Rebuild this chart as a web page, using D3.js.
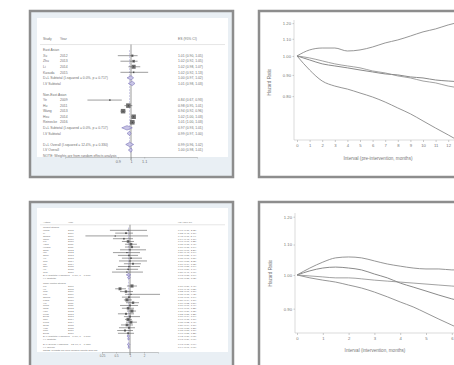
<!DOCTYPE html>
<html>
<head>
<meta charset="utf-8">
<script src="https://cdn.jsdelivr.net/npm/d3@7"></script>
<style>
  body { margin: 0; background: #fff; }
  svg { display: block; }
  text { font-family: "Liberation Sans", Arial, sans-serif; }
</style>
</head>
<body>
<svg id="chart" width="454" height="365"></svg>
<script>
// ---------- data: forest plot A (top left) ----------
const faHeader = ['Study', 'Year', 'ES (95% CI)'];
const faGroupLabels = ['East Asian', 'Non-East Asian'];
const fa1Names = ['Xu', 'Zhu', 'Li', 'Kasuda'];
const fa1Years = [2012, 2013, 2014, 2015];
const fa1Est = [1.01, 1.02, 1.02, 1.02];
const fa1Lo = [0.90, 0.92, 0.98, 0.92];
const fa1Hi = [1.05, 1.05, 1.07, 1.13];
const fa1Sub = [1.00, 0.97, 1.02];
const fa1SubIV = [1.01, 0.98, 1.03];
const fa2Names = ['Ye', 'Hu', 'Wang', 'Hsu', 'Reinecke'];
const fa2Years = [2009, 2011, 2013, 2014, 2016];
const fa2Est = [0.84, 0.98, 0.94, 1.02, 1.01];
const fa2Lo = [0.67, 0.95, 0.92, 1.00, 1.00];
const fa2Hi = [0.93, 1.01, 0.96, 1.03, 1.03];
const fa2Sub = [0.97, 0.93, 1.01];
const fa2SubIV = [0.99, 0.97, 1.00];
const faAll = [0.99, 0.96, 1.02];
const faAllIV = [1.00, 0.98, 1.01];
const faTicks = [0.9, 1, 1.1];

// ---------- data: forest plot B (bottom left) ----------
const fbHeader = ['Author', 'Year', 'HR (95% CI)'];
const fbGroupLabels = ['Cohort studies', 'Case-control studies'];
const fb1Names = ['Wang', 'Li', 'Zhang', 'Chen', 'Liu', 'Yang', 'Huang', 'Zhao',
  'Wu', 'Zhou', 'Xu', 'Sun', 'Ma', 'Zhu', 'Hu', 'Guo'];
const fb1Years = [2008, 2009, 2009, 2010, 2010, 2011, 2011, 2012,
  2012, 2013, 2013, 2014, 2014, 2015, 2015, 2016];
const fb1Est = [0.91, 0.82, 0.48, 0.74, 0.91, 1.05, 1.10, 1.00, 0.86, 0.95, 1.05, 1.00, 1.16, 0.95, 0.91, 0.86];
const fb1Lo = [0.37, 0.48, 0.11, 0.43, 0.67, 0.78, 0.78, 0.61, 0.43, 0.55, 0.67, 0.58, 0.74, 0.55, 0.50, 0.41];
const fb1Hi = [2.32, 1.16, 2.44, 1.16, 1.22, 1.41, 1.64, 2.21, 1.64, 1.49, 1.81, 2.32, 1.72, 1.64, 1.49, 1.90];
const fb1Sub = [0.93, 0.83, 1.04];
const fb1SubIV = [0.95, 0.88, 1.02];
const fb2Names = ['Lin', 'He', 'Gao', 'Luo', 'Zheng', 'Liang', 'Xie', 'Song', 'Tang',
  'Han', 'Feng', 'Deng', 'Cao', 'Peng', 'Zeng', 'Xiao', 'Tian', 'Dong'];
const fb2Years = [2007, 2008, 2009, 2009, 2010, 2010, 2011, 2011, 2012,
  2012, 2013, 2013, 2014, 2014, 2015, 2015, 2016, 2016];
const fb2Est = [1.10, 0.61, 0.82, 1.05, 0.95, 0.86, 1.16, 1.00, 0.91, 1.10, 0.82, 1.00, 0.91, 1.05, 0.86, 0.95, 0.78, 0.91];
const fb2Lo = [0.86, 0.48, 0.61, 0.78, 0.67, 0.74, 0.82, 0.61, 0.67, 0.86, 0.55, 0.74, 0.78, 0.82, 0.64, 0.58, 0.53, 0.55];
const fb2Hi = [1.41, 0.82, 1.16, 4.42, 1.64, 1.10, 1.56, 1.49, 1.22, 1.35, 1.22, 1.64, 1.10, 1.41, 1.16, 1.28, 1.16, 1.22];
const fb2Sub = [0.92, 0.86, 0.98];
const fb2SubIV = [0.93, 0.89, 0.97];
const fbAll = [0.93, 0.87, 0.99];
const fbAllIV = [0.94, 0.91, 0.97];
const fbTicks = [0.25, 0.5, 1, 2];

// ---------- data: hazard ratio curves ----------
const c1Months = [0, 1, 2, 3, 4, 5, 6, 7, 8, 9, 10, 11, 12, 13];
const c1Upper = [1.000, 1.034, 1.045, 1.045, 1.028, 1.034, 1.051, 1.075, 1.093, 1.117, 1.143, 1.162, 1.188, 1.208];
const c1EstA = [1.000, 0.978, 0.957, 0.946, 0.936, 0.925, 0.915, 0.905, 0.900, 0.890, 0.885, 0.875, 0.870, 0.866];
const c1EstB = [1.000, 0.989, 0.973, 0.957, 0.946, 0.936, 0.920, 0.910, 0.895, 0.885, 0.870, 0.861, 0.846, 0.837];
const c1Lower = [1.000, 0.925, 0.870, 0.846, 0.832, 0.814, 0.796, 0.774, 0.749, 0.725, 0.697, 0.670, 0.645, 0.620];
const c1XTicks = [0, 1, 2, 3, 4, 5, 6, 7, 8, 9, 10, 11, 12];
const c1YTicks = [0.8, 0.9, 1.0, 1.1, 1.2];

const c2Months = [0, 0.5, 1, 1.5, 2, 2.5, 3, 3.5, 4, 4.5, 5, 5.5, 6, 6.5, 7];
const c2Upper = [1.000, 1.022, 1.041, 1.055, 1.058, 1.055, 1.045, 1.035, 1.028, 1.022, 1.019, 1.019, 1.016, 1.016, 1.016];
const c2Est = [1.000, 1.013, 1.022, 1.025, 1.022, 1.016, 1.003, 0.991, 0.975, 0.963, 0.951, 0.939, 0.928, 0.919, 0.911];
const c2Thin = [1.000, 0.997, 0.994, 0.991, 0.991, 0.988, 0.984, 0.981, 0.978, 0.975, 0.972, 0.969, 0.966, 0.963, 0.960];
const c2Lower = [1.000, 0.991, 0.984, 0.978, 0.969, 0.960, 0.948, 0.934, 0.919, 0.905, 0.888, 0.871, 0.855, 0.839, 0.824];
const c2XTicks = [0, 1, 2, 3, 4, 5, 6];
const c2YTicks = [0.9, 1.0, 1.1, 1.2];

const yLabel = 'Hazard Ratio';
const c1XLabel = 'Interval (pre-intervention, months)';
const c2XLabel = 'Interval (intervention, months)';

// ---------- drawing ----------
const svg = d3.select('#chart');
const fmt = d3.format('.2f');
const textCol = '#707070';
const frameCol = '#8d8d8d';
const diamondCol = '#7b74b8';

function buildRows(groupLabels, groups, overall, overallIV) {
  const rows = [];
  let r = 2;
  groups.forEach((g, gi) => {
    rows.push({ type: 'label', row: r++, label: groupLabels[gi] });
    g.names.forEach((n, i) => {
      rows.push({ type: 'study', row: r++, label: n, year: g.years[i], est: g.est[i], lo: g.lo[i], hi: g.hi[i] });
    });
    rows.push({ type: 'sub', row: r++, label: 'D+L Subtotal (I-squared = 0.0%, p = 0.717)', est: g.sub[0], lo: g.sub[1], hi: g.sub[2] });
    rows.push({ type: 'sub', row: r++, label: 'I-V Subtotal', est: g.subIV[0], lo: g.subIV[1], hi: g.subIV[2] });
    r++;
  });
  rows.push({ type: 'sub', row: r++, label: 'D+L Overall (I-squared = 12.4%, p = 0.330)', est: overall[0], lo: overall[1], hi: overall[2] });
  rows.push({ type: 'sub', row: r++, label: 'I-V Overall', est: overallIV[0], lo: overallIV[1], hi: overallIV[2] });
  rows.push({ type: 'note', row: r++, label: 'NOTE: Weights are from random effects analysis' });
  return rows;
}

function drawForest(o) {
  const g = svg.append('g');
  // frame, pale band, white plot area
  g.append('rect').attr('x', o.frame[0]).attr('y', o.frame[1]).attr('width', o.frame[2]).attr('height', o.frame[3])
    .attr('fill', '#e9eff4').attr('stroke', frameCol).attr('stroke-width', 2.5);
  g.append('rect').attr('x', o.inner[0]).attr('y', o.inner[1]).attr('width', o.inner[2]).attr('height', o.inner[3])
    .attr('fill', '#fff');

  const nRows = d3.max(o.rows, d => d.row);
  const y = d3.scaleLinear().domain([0, nRows]).range(o.yRange);
  const x = o.x;
  const fs = o.fontSize;

  // header
  o.header.forEach((h, i) => {
    g.append('text').attr('x', o.cols[i]).attr('y', y(0)).attr('dy', '0.35em')
      .attr('font-size', fs).attr('fill', textCol).text(h);
  });
  g.append('line').attr('x1', o.inner[0] + 3).attr('x2', o.inner[0] + o.inner[2] - 3)
    .attr('y1', y(1)).attr('y2', y(1)).attr('stroke', '#ccc').attr('stroke-width', 0.5);

  // null line
  g.append('line').attr('x1', x(1)).attr('x2', x(1)).attr('y1', y(1)).attr('y2', o.axisY + 3)
    .attr('stroke', '#555').attr('stroke-width', 0.6);
  // overall effect line
  const ov = o.rows.filter(d => d.type === 'sub').slice(-2)[0];
  g.append('line').attr('x1', x(ov.est)).attr('x2', x(ov.est)).attr('y1', y(2)).attr('y2', y(nRows - 1))
    .attr('stroke', diamondCol).attr('stroke-width', 0.5).attr('stroke-dasharray', '2,1').attr('opacity', 0.8);

  o.rows.forEach(d => {
    const yy = y(d.row);
    g.append('text').attr('x', o.cols[0]).attr('y', yy).attr('dy', '0.35em')
      .attr('font-size', fs).attr('fill', textCol).text(d.label);
    if (d.type === 'label' || d.type === 'note') return;
    if (d.type === 'study') {
      g.append('text').attr('x', o.cols[1]).attr('y', yy).attr('dy', '0.35em').attr('font-size', fs).attr('fill', textCol).text(d.year);
      g.append('line').attr('x1', x(d.lo)).attr('x2', x(d.hi)).attr('y1', yy).attr('y2', yy)
        .attr('stroke', '#4d4d4d').attr('stroke-width', 0.55);
      const s = Math.max(o.sq[0], Math.min(o.sq[1], o.sq[2] / (Math.log(d.hi) - Math.log(d.lo))));
      g.append('rect').attr('x', x(d.est) - s / 2).attr('y', yy - s / 2).attr('width', s).attr('height', s)
        .attr('fill', '#6f6f6f');
      g.append('circle').attr('cx', x(d.est)).attr('cy', yy).attr('r', 0.5).attr('fill', '#333');
    } else {
      const h = o.diamondH;
      g.append('polygon')
        .attr('points', [[x(d.lo), yy], [x(d.est), yy - h], [x(d.hi), yy], [x(d.est), yy + h]].map(p => p.join(',')).join(' '))
        .attr('fill', '#c9c5e6').attr('stroke', diamondCol).attr('stroke-width', 0.6);
    }
    g.append('text').attr('x', o.cols[2]).attr('y', yy).attr('dy', '0.35em').attr('font-size', fs).attr('fill', textCol)
      .text(`${fmt(d.est)} (${fmt(d.lo)}, ${fmt(d.hi)})`);
  });

  // x axis
  const ax = g.append('g').attr('transform', `translate(0,${o.axisY})`)
    .call(d3.axisBottom(x).tickValues(o.ticks).tickSize(1.5).tickFormat(d => d3.format('~g')(d)));
  ax.select('.domain').attr('stroke', '#999').attr('stroke-width', 0.5);
  ax.selectAll('line').attr('stroke', '#999').attr('stroke-width', 0.5);
  ax.selectAll('text').attr('font-size', fs + 0.4).attr('fill', textCol).attr('y', 3);
}

function drawHR(o) {
  const g = svg.append('g');
  g.append('rect').attr('x', o.frame[0]).attr('y', o.frame[1]).attr('width', o.frame[2]).attr('height', o.frame[3])
    .attr('fill', '#fff').attr('stroke', frameCol).attr('stroke-width', 2.5);

  const x = d3.scaleLinear().domain(o.xDomain).range(o.xRange);
  const y = d3.scaleLog().domain(o.yDomain).range(o.yRange);

  const clipId = 'clip' + o.id;
  svg.append('clipPath').attr('id', clipId).append('rect')
    .attr('x', o.axisX).attr('y', o.yRange[1] - 4).attr('width', 300).attr('height', o.yRange[0] - o.yRange[1] + 4);

  const xa = g.append('g').attr('transform', `translate(0,${o.yRange[0]})`)
    .call(d3.axisBottom(x).tickValues(o.xTicks).tickSize(2).tickFormat(d3.format('d')));
  xa.select('.domain').attr('d', `M${o.axisX},0H${o.xRange[1] + 40}`).attr('stroke', '#c4c4c4').attr('stroke-width', 0.6);
  xa.selectAll('line').attr('stroke', '#aaa').attr('stroke-width', 0.6);
  xa.selectAll('text').attr('font-size', 4.2).attr('fill', '#777').attr('y', 4);

  const ya = g.append('g').attr('transform', `translate(${o.axisX},0)`)
    .call(d3.axisLeft(y).tickValues(o.yTicks).tickSize(1.5).tickFormat(fmt));
  ya.select('.domain').attr('d', `M0,${o.yRange[1]}V${o.yRange[0]}`).attr('stroke', '#c4c4c4').attr('stroke-width', 0.6);
  ya.selectAll('line').attr('stroke', '#aaa').attr('stroke-width', 0.6);
  ya.selectAll('text').attr('font-size', 4.2).attr('fill', '#777').attr('x', -3);

  g.append('text').attr('transform', `translate(${o.yLabelPos[0]},${o.yLabelPos[1]}) rotate(-90)`)
    .attr('text-anchor', 'middle').attr('font-size', 4.6).attr('fill', '#777').text(yLabel);
  g.append('text').attr('x', o.xLabelPos[0]).attr('y', o.xLabelPos[1]).attr('text-anchor', 'middle')
    .attr('font-size', 4.6).attr('fill', '#777').text(o.xLabel);

  const line = d3.line().x((d, i) => x(o.months[i])).y(d => y(d)).curve(d3.curveMonotoneX);
  const lines = g.append('g').attr('clip-path', `url(#${clipId})`);
  o.series.forEach(s => {
    lines.append('path').attr('d', line(s.values)).attr('fill', 'none')
      .attr('stroke', '#8a8a8a').attr('stroke-width', s.w);
  });
}

// forest A
drawForest({
  frame: [30, 11, 203, 166], inner: [37, 18, 191, 139],
  yRange: [39, 155.6], x: d3.scaleLinear().domain([0.5, 1.5]).range([65, 197]),
  cols: [43, 60, 178], header: faHeader, fontSize: 3.4, axisY: 157, ticks: faTicks,
  sq: [1.5, 4.5, 0.35], diamondH: 2.2,
  rows: buildRows(faGroupLabels, [
    { names: fa1Names, years: fa1Years, est: fa1Est, lo: fa1Lo, hi: fa1Hi, sub: fa1Sub, subIV: fa1SubIV },
    { names: fa2Names, years: fa2Years, est: fa2Est, lo: fa2Lo, hi: fa2Hi, sub: fa2Sub, subIV: fa2SubIV }
  ], faAll, faAllIV)
});

// forest B
drawForest({
  frame: [30, 202, 203, 200], inner: [37, 208, 191, 144],
  yRange: [222, 350], x: d3.scaleLog().domain([0.25, 4]).range([102, 158]),
  cols: [43, 68, 178], header: fbHeader, fontSize: 2.5, axisY: 352, ticks: fbTicks,
  sq: [1.0, 3.2, 1.6], diamondH: 1.3,
  rows: buildRows(fbGroupLabels, [
    { names: fb1Names, years: fb1Years, est: fb1Est, lo: fb1Lo, hi: fb1Hi, sub: fb1Sub, subIV: fb1SubIV },
    { names: fb2Names, years: fb2Years, est: fb2Est, lo: fb2Lo, hi: fb2Hi, sub: fb2Sub, subIV: fb2SubIV }
  ], fbAll, fbAllIV)
});

// hazard ratio curves, top right
drawHR({
  id: 1, frame: [259, 11, 240, 166], axisX: 294,
  xDomain: [0, 14], xRange: [297, 473.4], yDomain: [0.627, 1.221], yRange: [140, 20],
  months: c1Months, xTicks: c1XTicks, yTicks: c1YTicks,
  yLabelPos: [271, 82], xLabelPos: [378, 160], xLabel: c1XLabel,
  series: [{ values: c1Upper, w: 0.9 }, { values: c1EstA, w: 1.0 }, { values: c1EstB, w: 0.8 }, { values: c1Lower, w: 0.9 }]
});

// hazard ratio curves, bottom right
drawHR({
  id: 2, frame: [259, 202, 240, 200], axisX: 295,
  xDomain: [0, 7], xRange: [297, 477.6], yDomain: [0.834, 1.214], yRange: [333, 213],
  months: c2Months, xTicks: c2XTicks, yTicks: c2YTicks,
  yLabelPos: [272, 273], xLabelPos: [375, 352], xLabel: c2XLabel,
  series: [{ values: c2Upper, w: 0.9 }, { values: c2Est, w: 1.0 }, { values: c2Thin, w: 0.8 }, { values: c2Lower, w: 0.9 }]
});
</script>
</body>
</html>
